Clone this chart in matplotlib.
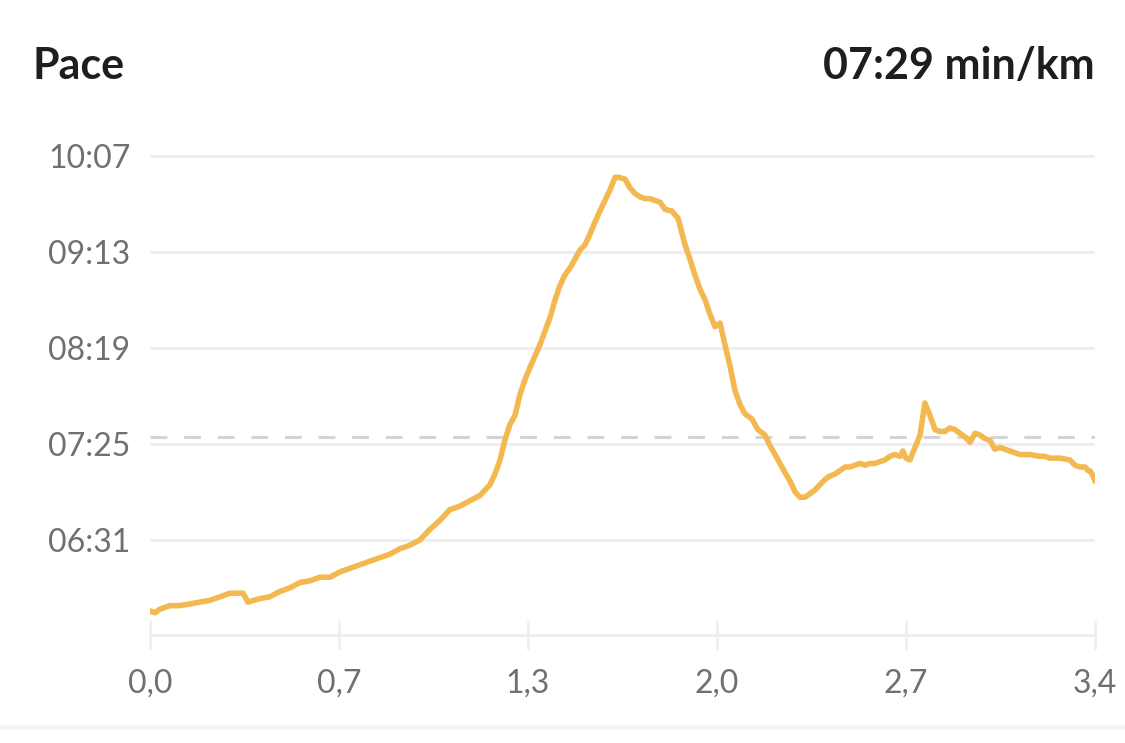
import matplotlib
matplotlib.use("Agg")
import matplotlib.pyplot as plt

plt.rcParams['font.family'] = ['Lato', 'DejaVu Sans']

# distance (km) and pace (seconds per km)
distance_km = [0.000, 0.018, 0.035, 0.071, 0.106, 0.142, 0.177, 0.213, 0.248, 0.284,
               0.330, 0.347, 0.390, 0.425, 0.461, 0.496, 0.532, 0.567, 0.603, 0.638,
               0.674, 0.709, 0.744, 0.780, 0.815, 0.851, 0.886, 0.922, 0.957, 0.993,
               1.028, 1.063, 1.099, 1.134, 1.170, 1.205, 1.223, 1.241, 1.258, 1.276,
               1.294, 1.312, 1.329, 1.347, 1.383, 1.418, 1.436, 1.453, 1.471, 1.489,
               1.507, 1.524, 1.542, 1.560, 1.578, 1.595, 1.613, 1.631, 1.649, 1.659,
               1.684, 1.702, 1.719, 1.737, 1.755, 1.772, 1.790, 1.808, 1.826, 1.850,
               1.872, 1.897, 1.914, 1.932, 1.950, 1.968, 1.985, 2.003, 2.021, 2.038,
               2.056, 2.074, 2.092, 2.109, 2.134, 2.155, 2.180, 2.198, 2.216, 2.233,
               2.251, 2.269, 2.287, 2.304, 2.322, 2.340, 2.357, 2.375, 2.393, 2.411,
               2.428, 2.446, 2.464, 2.481, 2.499, 2.517, 2.535, 2.552, 2.570, 2.588,
               2.606, 2.623, 2.641, 2.659, 2.669, 2.680, 2.694, 2.712, 2.730, 2.747,
               2.765, 2.783, 2.801, 2.818, 2.836, 2.854, 2.871, 2.889, 2.907, 2.925,
               2.942, 2.960, 2.978, 2.995, 3.013, 3.049, 3.084, 3.120, 3.155, 3.173,
               3.190, 3.226, 3.261, 3.279, 3.297, 3.315, 3.325, 3.332, 3.343, 3.350]
pace_s = [351, 350, 352, 354, 354, 355, 356, 357, 359, 361,
          361, 356, 358, 359, 362, 364, 367, 368, 370, 370,
          373, 375, 377, 379, 381, 383, 386, 388, 391, 397,
          402, 408, 410, 413, 416, 422, 428, 436, 447, 456,
          461, 473, 481, 488, 501, 516, 526, 534, 540, 544,
          549, 554, 557, 563, 570, 576, 582, 588, 595, 595,
          594, 589, 586, 584, 583, 583, 582, 581, 577, 576,
          572, 557, 549, 540, 532, 526, 518, 511, 513, 501,
          489, 475, 467, 462, 459, 453, 450, 444, 439, 434,
          429, 424, 418, 415, 415, 417, 419, 422, 425, 427,
          428, 430, 432, 432, 433, 434, 433, 434, 434, 435,
          436, 438, 439, 438, 441, 437, 436, 443, 450, 468,
          461, 453, 452, 452, 454, 453, 451, 449, 446, 451,
          450, 448, 447, 442, 443, 441, 439, 439, 438, 438,
          437, 437, 436, 433, 432, 432, 430, 430, 427, 424]

avg_pace = 449  # 07:29
total_km = 3.35
x_ticks = [0.0, 0.67, 1.34, 2.01, 2.68, 3.35]
x_labels = ["0,0", "0,7", "1,3", "2,0", "2,7", "3,4"]
y_ticks = [391, 445, 499, 553, 607]


def mmss(s):
    return "%02d:%02d" % (s // 60, s % 60)


fig = plt.figure(figsize=(11.25, 7.43), dpi=100)
ax = fig.add_axes([0.1333, 0.1454, 0.84, 0.6662])

ax.plot(distance_km, pace_s, color="#F4B850", lw=4, solid_capstyle="round",
        solid_joinstyle="round", zorder=3)
ax.axhline(avg_pace, color="#d4d4d4", lw=2.2, dashes=(5.5, 5.5), zorder=2)

ax.set_xlim(0, total_km)
ax.set_ylim(337.5, 616)
ax.set_yticks(y_ticks)
ax.set_yticklabels([mmss(v) for v in y_ticks])
ax.set_xticks(x_ticks)
ax.set_xticklabels(x_labels)
ax.grid(axis="y", color="#eeeeee", lw=2.2)
ax.set_axisbelow(True)

for s in ["top", "right", "left"]:
    ax.spines[s].set_visible(False)
ax.spines["bottom"].set_color("#eeeeee")
ax.spines["bottom"].set_linewidth(2.2)

ax.tick_params(axis="y", length=0, pad=14, labelsize=23, labelcolor="#707070")
ax.tick_params(axis="x", direction="inout", length=21, width=1.8, color="#eeeeee",
               pad=14, labelsize=23, labelcolor="#707070")

fig.text(33 / 1125, 1 - 79 / 743, "Pace", fontsize=31, fontweight="bold",
         color="#1e1e1e", ha="left", va="baseline")
fig.text(1095 / 1125, 1 - 79 / 743, mmss(avg_pace) + " min/km", fontsize=31,
         fontweight="bold", color="#1e1e1e", ha="right", va="baseline")

fig.add_artist(plt.Line2D([0, 1], [1 - 727 / 743] * 2, color="#f2f2f2", lw=2.5))

fig.savefig("out.png", dpi=100, facecolor="white")
